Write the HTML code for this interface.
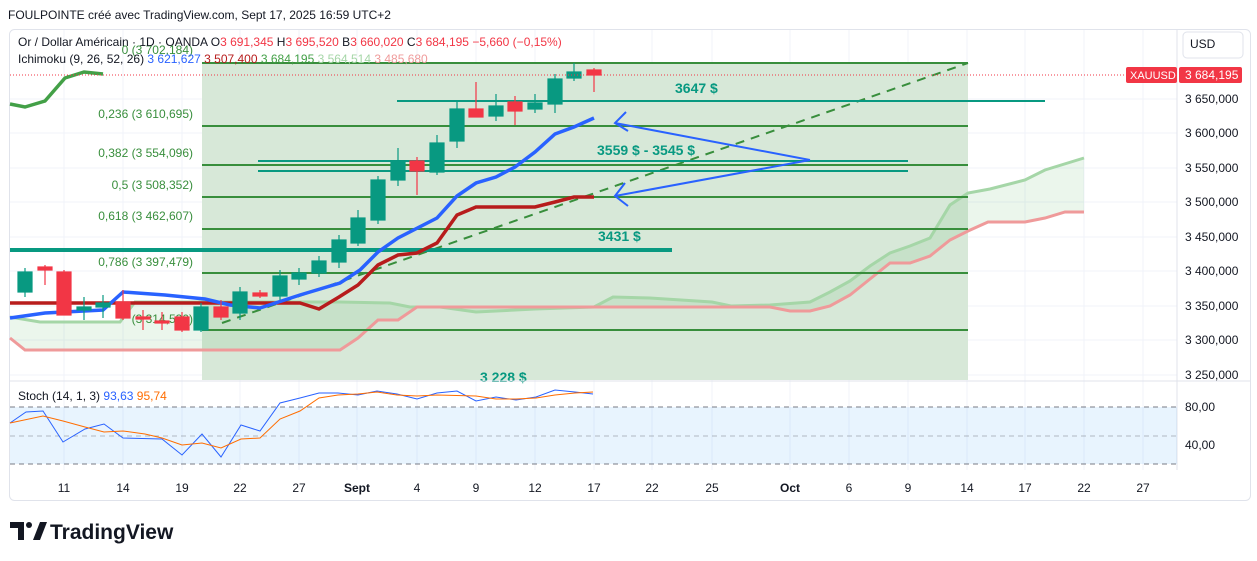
<!DOCTYPE html>
<html><head><meta charset="utf-8"><style>
body{margin:0;width:1257px;height:561px;background:#fff;overflow:hidden;font-family:"Liberation Sans",sans-serif}
svg{position:absolute;left:0;top:0}
text{font-family:"Liberation Sans",sans-serif}
</style></head><body>
<svg width="1257" height="561" viewBox="0 0 1257 561">
<text x="8" y="19" font-size="12" fill="#131722">FOULPOINTE créé avec TradingView.com, Sept 17, 2025 16:59 UTC+2</text>
<rect x="9.5" y="29.5" width="1241" height="471" rx="5" fill="none" stroke="#e0e3eb"/>
<g stroke="#f0f3fa" stroke-width="1">
<line x1="64" y1="30" x2="64" y2="470"/><line x1="123" y1="30" x2="123" y2="470"/><line x1="182" y1="30" x2="182" y2="470"/><line x1="240" y1="30" x2="240" y2="470"/><line x1="299" y1="30" x2="299" y2="470"/><line x1="357" y1="30" x2="357" y2="470"/><line x1="417" y1="30" x2="417" y2="470"/><line x1="476" y1="30" x2="476" y2="470"/><line x1="535" y1="30" x2="535" y2="470"/><line x1="594" y1="30" x2="594" y2="470"/><line x1="652" y1="30" x2="652" y2="470"/><line x1="712" y1="30" x2="712" y2="470"/><line x1="790" y1="30" x2="790" y2="470"/><line x1="849" y1="30" x2="849" y2="470"/><line x1="908" y1="30" x2="908" y2="470"/><line x1="967" y1="30" x2="967" y2="470"/><line x1="1025" y1="30" x2="1025" y2="470"/><line x1="1084" y1="30" x2="1084" y2="470"/><line x1="1143" y1="30" x2="1143" y2="470"/>
<line x1="10" y1="99" x2="1177" y2="99"/><line x1="10" y1="133" x2="1177" y2="133"/><line x1="10" y1="168" x2="1177" y2="168"/><line x1="10" y1="202" x2="1177" y2="202"/><line x1="10" y1="237" x2="1177" y2="237"/><line x1="10" y1="271" x2="1177" y2="271"/><line x1="10" y1="306" x2="1177" y2="306"/><line x1="10" y1="340" x2="1177" y2="340"/><line x1="10" y1="375" x2="1177" y2="375"/>
</g>
<rect x="202" y="63" width="766" height="317" fill="#d7e8d8"/>
<polygon fill="#4caf50" fill-opacity="0.11" points="10,317 40,322 120,322 135,302 340,302 390,303 410,307 440,307 476,312 535,309 594,307 613,297 650,298 712,302 731,306 770,305 810,302 830,292 850,281 870,266 890,253 910,246 930,238 950,205 968,193 990,189 1025,180 1045,170 1084,158 1084,212 1065,212 1045,218 1025,222 988,222 968,231 950,240 930,256 910,263 890,263 870,279 850,295 830,306 810,311 790,311 770,307 594,307 417,307 398,320 378,320 358,338 340,350 25,350 10,338"/>
<polyline fill="none" stroke="#a5d6a7" stroke-width="3" points="10,317 40,322 120,322 135,302 340,302 390,303 410,307 440,307 476,312 535,309 594,307 613,297 650,298 712,302 731,306 770,305 810,302 830,292 850,281 870,266 890,253 910,246 930,238 950,205 968,193 990,189 1025,180 1045,170 1084,158"/>
<polyline fill="none" stroke="#ef9a9a" stroke-width="3" points="10,338 25,350 340,350 358,338 378,320 398,320 417,307 594,307 770,307 790,311 810,311 830,306 850,295 870,279 890,263 910,263 930,256 950,240 968,231 988,222 1025,222 1045,218 1065,212 1084,212"/>
<g stroke="#388e3c" stroke-width="2">
<line x1="202" y1="63" x2="968" y2="63"/><line x1="202" y1="126" x2="968" y2="126"/><line x1="202" y1="165" x2="968" y2="165"/><line x1="202" y1="197" x2="968" y2="197"/><line x1="202" y1="229" x2="968" y2="229"/><line x1="202" y1="273" x2="968" y2="273"/><line x1="202" y1="330" x2="968" y2="330"/>
</g>
<g fill="#388e3c" font-size="12" text-anchor="end">
<text x="193" y="54">0 (3 702,184)</text>
<text x="193" y="118">0,236 (3 610,695)</text>
<text x="193" y="157">0,382 (3 554,096)</text>
<text x="193" y="189">0,5 (3 508,352)</text>
<text x="193" y="220">0,618 (3 462,607)</text>
<text x="193" y="266">0,786 (3 397,479)</text>
<text x="193" y="323">(3 314,530)</text>
</g>
<line x1="222" y1="323" x2="968" y2="63" stroke="#388e3c" stroke-width="2" stroke-dasharray="9,7"/>
<g stroke="#089981">
<line x1="397" y1="101" x2="1045" y2="101" stroke-width="2"/>
<line x1="258" y1="161" x2="908" y2="161" stroke-width="2"/>
<line x1="258" y1="171" x2="908" y2="171" stroke-width="2"/>
<line x1="10" y1="250" x2="672" y2="250" stroke-width="4"/>
</g>
<g fill="#089981" font-size="14" font-weight="bold">
<text x="675" y="93">3647 $</text>
<text x="597" y="155">3559 $ - 3545 $</text>
<text x="598" y="241">3431 $</text>
<text x="480" y="382">3 228 $</text>
</g>
<g stroke="#2962ff" stroke-width="2" fill="none">
<polyline points="810,160 615,123"/><polyline points="626,112 615,123 628,131"/>
<polyline points="810,160 615,196"/><polyline points="625,183 615,196 628,206"/>
</g>
<polyline fill="none" stroke="#43a047" stroke-width="3.5" points="10,104 25,107 45,101 65,78 84,72 103,74"/>
<polyline fill="none" stroke="#b71c1c" stroke-width="3.5" points="10,303 280,303 300,303 319,309 339,297 358,285 378,265 398,255 417,253 437,243 457,215 476,207 535,207 555,202 574,197 594,197"/>
<polyline fill="none" stroke="#2962ff" stroke-width="3.5" points="10,318 45,313 103,310 123,292 165,295 205,299 230,305 260,308 300,295 340,283 360,270 378,252 398,238 437,218 457,196 476,183 496,177 515,167 535,152 555,134 574,127 594,118"/>
<g stroke-width="1.2">
<g stroke="#089981" fill="#089981">
<line x1="25" y1="268" x2="25" y2="297"/><rect x="18" y="272" width="14" height="20"/>
<line x1="84" y1="297" x2="84" y2="320"/><rect x="77" y="307" width="14" height="3"/>
<line x1="103" y1="295" x2="103" y2="318"/><rect x="96" y="303" width="14" height="4"/>
<line x1="201" y1="303" x2="201" y2="332"/><rect x="194" y="307" width="14" height="23"/>
<line x1="240" y1="287" x2="240" y2="320"/><rect x="233" y="292" width="14" height="21"/>
<line x1="280" y1="270" x2="280" y2="300"/><rect x="273" y="276" width="14" height="20"/>
<line x1="299" y1="268" x2="299" y2="285"/><rect x="292" y="273" width="14" height="6"/>
<line x1="319" y1="256" x2="319" y2="277"/><rect x="312" y="261" width="14" height="12"/>
<line x1="339" y1="235" x2="339" y2="268"/><rect x="332" y="240" width="14" height="22"/>
<line x1="358" y1="210" x2="358" y2="246"/><rect x="351" y="218" width="14" height="25"/>
<line x1="378" y1="176" x2="378" y2="224"/><rect x="371" y="180" width="14" height="40"/>
<line x1="398" y1="148" x2="398" y2="186"/><rect x="391" y="161" width="14" height="19"/>
<line x1="437" y1="135" x2="437" y2="175"/><rect x="430" y="143" width="14" height="29"/>
<line x1="457" y1="102" x2="457" y2="148"/><rect x="450" y="109" width="14" height="32"/>
<line x1="496" y1="94" x2="496" y2="121"/><rect x="489" y="106" width="14" height="10"/>
<line x1="535" y1="94" x2="535" y2="113"/><rect x="528" y="103" width="14" height="6"/>
<line x1="555" y1="74" x2="555" y2="113"/><rect x="548" y="79" width="14" height="25"/>
<line x1="574" y1="63" x2="574" y2="81"/><rect x="567" y="72" width="14" height="6"/>
</g>
<g stroke="#f23645" fill="#f23645">
<line x1="45" y1="265" x2="45" y2="285"/><rect x="38" y="267" width="14" height="3"/>
<line x1="64" y1="270" x2="64" y2="315"/><rect x="57" y="272" width="14" height="43"/>
<line x1="123" y1="290" x2="123" y2="320"/><rect x="116" y="302" width="14" height="16"/>
<line x1="143" y1="310" x2="143" y2="330"/><rect x="136" y="317" width="14" height="2"/>
<line x1="162" y1="312" x2="162" y2="330"/><rect x="155" y="321" width="14" height="2"/>
<line x1="182" y1="312" x2="182" y2="332"/><rect x="175" y="317" width="14" height="13"/>
<line x1="221" y1="300" x2="221" y2="320"/><rect x="214" y="307" width="14" height="10"/>
<line x1="260" y1="290" x2="260" y2="298"/><rect x="253" y="293" width="14" height="3"/>
<line x1="417" y1="157" x2="417" y2="195"/><rect x="410" y="161" width="14" height="10"/>
<line x1="476" y1="82" x2="476" y2="117"/><rect x="469" y="109" width="14" height="8"/>
<line x1="515" y1="96" x2="515" y2="125"/><rect x="508" y="102" width="14" height="9"/>
<line x1="594" y1="68" x2="594" y2="92"/><rect x="587" y="70" width="14" height="5"/>
</g></g>
<line x1="10" y1="75" x2="1125" y2="75" stroke="#f23645" stroke-dasharray="1,2"/>
<text x="18" y="46" font-size="12" fill="#131722">Or / Dollar Américain · 1D · OANDA <tspan>O</tspan><tspan fill="#f23645">3 691,345</tspan> H<tspan fill="#f23645">3 695,520</tspan> B<tspan fill="#f23645">3 660,020</tspan> C<tspan fill="#f23645">3 684,195</tspan> <tspan fill="#f23645">−5,660 (−0,15%)</tspan></text>
<text x="18" y="63" font-size="12" fill="#131722">Ichimoku (9, 26, 52, 26) <tspan fill="#2962ff">3 621,627</tspan> <tspan fill="#b71c1c">3 507,400</tspan> <tspan fill="#43a047">3 684,195</tspan> <tspan fill="#a5d6a7">3 564,514</tspan> <tspan fill="#ef9a9a">3 485,680</tspan></text>
<line x1="1177" y1="30" x2="1177" y2="470" stroke="#e0e3eb"/>
<rect x="1183" y="32" width="60" height="26" rx="4" fill="#fff" stroke="#e0e3eb"/>
<text x="1190" y="48" font-size="12" fill="#131722">USD</text>
<g font-size="12" fill="#131722">
<text x="1185" y="103">3 650,000</text><text x="1185" y="137">3 600,000</text><text x="1185" y="172">3 550,000</text><text x="1185" y="206">3 500,000</text><text x="1185" y="241">3 450,000</text><text x="1185" y="275">3 400,000</text><text x="1185" y="310">3 350,000</text><text x="1185" y="344">3 300,000</text><text x="1185" y="379">3 250,000</text>
<text x="1185" y="411">80,00</text><text x="1185" y="449">40,00</text>
</g>
<rect x="1126" y="67" width="51" height="16" rx="2" fill="#f23645"/>
<text x="1130" y="79" font-size="11" fill="#fff">XAUUSD</text>
<rect x="1179" y="67" width="63" height="16" rx="2" fill="#f23645"/>
<text x="1185" y="79" font-size="12" fill="#fff">3 684,195</text>
<line x1="10" y1="381" x2="1250" y2="381" stroke="#e0e3eb"/>
<rect x="10" y="407" width="1167" height="57" fill="#2196f3" fill-opacity="0.1"/>
<g stroke="#787b86" stroke-dasharray="5,4">
<line x1="10" y1="407" x2="1177" y2="407"/><line x1="10" y1="436" x2="1177" y2="436" stroke-opacity="0.5"/><line x1="10" y1="464" x2="1177" y2="464"/>
</g>
<text x="18" y="400" font-size="12" fill="#131722">Stoch (14, 1, 3) <tspan fill="#2962ff">93,63</tspan> <tspan fill="#ff6d00">95,74</tspan></text>
<polyline fill="none" stroke="#2962ff" stroke-width="1" points="10,423 26,412 43,411 63,442 85,429 104,424 123,438 162,439 182,455 202,434 221,457 241,425 260,431 280,403 300,398 319,393 338,393 358,395 377,391 397,394 417,399 437,393 457,391 476,401 496,397 516,400 536,397 555,390 575,392 593,394"/>
<polyline fill="none" stroke="#ff6d00" stroke-width="1" points="10,423 43,416 63,421 85,427 104,432 123,431 145,434 162,438 182,445 202,443 221,448 241,439 260,438 280,419 300,411 319,398 338,395 358,394 377,392 397,395 417,396 437,395 476,396 496,399 516,399 536,398 555,395 575,393 593,392"/>
<g font-size="12" fill="#131722" text-anchor="middle">
<text x="64" y="492">11</text><text x="123" y="492">14</text><text x="182" y="492">19</text><text x="240" y="492">22</text><text x="299" y="492">27</text><text x="357" y="492" font-weight="bold">Sept</text><text x="417" y="492">4</text><text x="476" y="492">9</text><text x="535" y="492">12</text><text x="594" y="492">17</text><text x="652" y="492">22</text><text x="712" y="492">25</text><text x="790" y="492" font-weight="bold">Oct</text><text x="849" y="492">6</text><text x="908" y="492">9</text><text x="967" y="492">14</text><text x="1025" y="492">17</text><text x="1084" y="492">22</text><text x="1143" y="492">27</text>
</g>
<path d="M10 522h14v18h-6v-12h-8z" fill="#131722"/>
<circle cx="29" cy="525" r="3" fill="#131722"/>
<path d="M33 540l7-18h7l-7 18z" fill="#131722"/>
<text x="50" y="539" font-size="21" font-weight="bold" fill="#131722">TradingView</text>
</svg>
</body></html>
